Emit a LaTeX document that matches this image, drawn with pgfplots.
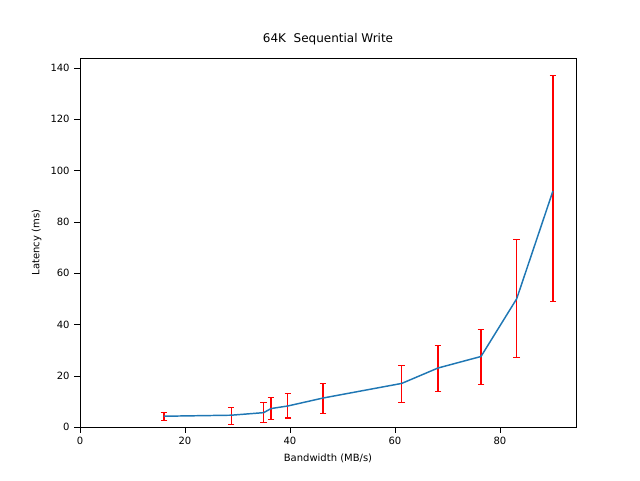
\documentclass[border=0pt]{standalone}
\usepackage{pgfplots}
\pgfplotsset{compat=1.18}
\usepackage{fontspec}
\setmainfont{DejaVu Sans}
\begin{document}
\begin{tikzpicture}
\useasboundingbox (-60pt,-39.75pt) rectangle (420pt,320.25pt);
\begin{axis}[at={(0,0)},anchor=south west,scale only axis,width=372pt,height=276.75pt,
xmin=0,xmax=94.5,ymin=0,ymax=143.9,
xtick={0,20,40,60,80},ytick={0,20,...,140},
tick align=outside,tick style={black},
xtick pos=bottom, ytick pos=left,
/pgf/number format/assume math mode=true,
font=\fontsize{7.5pt}{9pt}\selectfont,
tick label style={font=\fontsize{7.5pt}{9pt}\selectfont},
label style={font=\fontsize{7.5pt}{9pt}\selectfont},
title={64K\ \ Sequential Write},title style={font=\fontsize{9pt}{11pt}\selectfont},
xlabel={Bandwidth (MB/s)},ylabel={Latency (ms)}]
\addplot[red,line width=0.9pt,draw=none,mark=none,forget plot,error bars/.cd,y dir=both,y explicit,
error bar style={red,solid,line width=0.9pt},error mark options={red,solid,line width=0.9pt,mark size=2.5pt,rotate=90}]
table[x=x,y=y,y error plus=ep,y error minus=em]{
x y ep em
16.0 4.2 1.6 1.7
28.8 4.6 3.0 3.6
35.0 5.6 4.0 3.8
36.4 7.2 4.4 4.2
39.6 8.2 4.8 4.7
46.3 11.3 5.7 6.0
61.3 17.0 7.0 7.3
68.2 23.0 8.8 9.0
76.4 27.5 10.5 10.9
83.2 50.0 23.0 23.0
90.1 92.0 45.0 43.0
};
\addplot[color={rgb,255:red,31;green,119;blue,180},line width=1.1pt,mark=none] coordinates {
(16.0,4.2)(28.8,4.6)(35.0,5.6)(36.4,7.2)(39.6,8.2)(46.3,11.3)(61.3,17.0)(68.2,23.0)(76.4,27.5)(83.2,50.0)(90.1,92.0)};
\end{axis}
\end{tikzpicture}
\end{document}
